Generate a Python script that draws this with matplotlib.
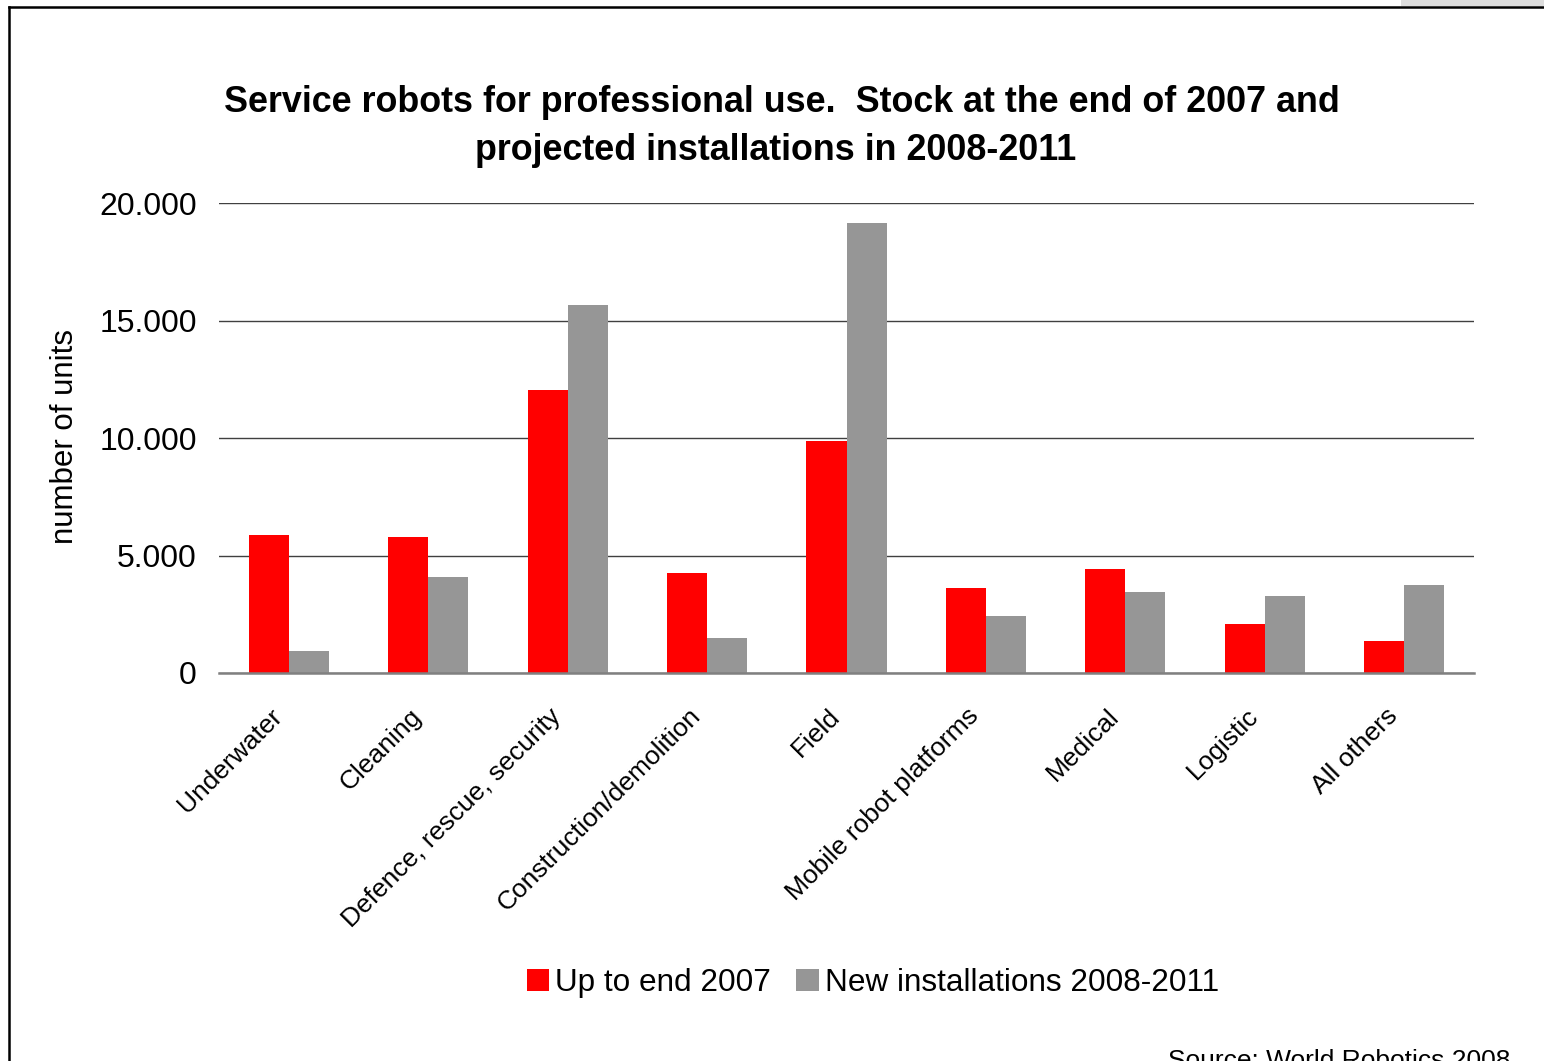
import matplotlib
matplotlib.use('Agg')
import matplotlib.pyplot as plt
import matplotlib.transforms as mtransforms
import numpy as np
from matplotlib.lines import Line2D
from matplotlib.patches import Rectangle
from matplotlib.ticker import FuncFormatter

plt.rcParams['font.family'] = ['Liberation Sans', 'DejaVu Sans']

categories = ['Underwater', 'Cleaning', 'Defence, rescue, security', 'Construction/demolition',
              'Field', 'Mobile robot platforms', 'Medical', 'Logistic', 'All others']
stock_2007 = [5870, 5790, 12040, 4260, 9870, 3620, 4430, 2090, 1360]
new_2008_2011 = [940, 4090, 15660, 1490, 19150, 2430, 3450, 3280, 3740]

W, H = 1544, 1061
fig = plt.figure(figsize=(W / 100, H / 100), dpi=100)

# frame around the chart area (partly cut off, as in the screenshot)
fig.add_artist(Rectangle((1401 / W, 1 - 6 / H), 143 / W, 6 / H, transform=fig.transFigure,
                         facecolor='#dddddd', edgecolor='none'))
fig.add_artist(Line2D([9 / W, 1.0], [1 - 7 / H, 1 - 7 / H], transform=fig.transFigure, color='black', lw=1.8))
fig.add_artist(Line2D([9 / W, 9 / W], [0, 1 - 7 / H], transform=fig.transFigure, color='black', lw=1.8))

ax = fig.add_axes([219 / W, 1 - 673 / H, (1474 - 219) / W, (673 - 203) / H])

x = np.arange(len(categories))
w = 0.287
ax.bar(x - w / 2, stock_2007, w, color='#ff0000', label='Up to end 2007', zorder=3)
ax.bar(x + w / 2, new_2008_2011, w, color='#969696', label='New installations 2008-2011', zorder=3)

ax.set_xlim(-0.5, len(categories) - 0.5)
ax.set_ylim(0, 20000)
ax.set_yticks([0, 5000, 10000, 15000, 20000])
ax.yaxis.set_major_formatter(FuncFormatter(lambda v, p: f'{int(v):,}'.replace(',', '.')))
ax.grid(axis='y', color='#404040', lw=1.0, zorder=0)
for s in ['top', 'right', 'left']:
    ax.spines[s].set_visible(False)
ax.spines['bottom'].set_color('#808080')
ax.spines['bottom'].set_linewidth(1.8)
ax.spines['bottom'].set_zorder(4)
ax.tick_params(axis='y', length=0, labelsize=23, pad=16)
ax.tick_params(axis='x', length=0, pad=10)
ax.set_xticks(x)
ax.set_xticklabels(categories, rotation=45, ha='right', rotation_mode='anchor', fontsize=19)
shift = mtransforms.ScaledTranslation(-0.19, -0.17, fig.dpi_scale_trans)
for lab in ax.get_xticklabels():
    lab.set_transform(lab.get_transform() + shift)

fig.text(65 / W, 1 - 437 / H, 'number of units', rotation=90, ha='center', va='center', fontsize=22.5)

fig.text(782 / W, 1 - 103 / H, 'Service robots for professional use.  Stock at the end of 2007 and',
         ha='center', va='center', fontsize=25.8, fontweight='bold')
fig.text(776 / W, 1 - 151 / H, 'projected installations in 2008-2011',
         ha='center', va='center', fontsize=25.8, fontweight='bold')

fig.legend(loc='center', bbox_to_anchor=(873 / W, 1 - 983 / H), ncol=2, frameon=False,
           fontsize=22.7, handlelength=0.7, handleheight=0.7, handletextpad=0.2, columnspacing=0.8)

fig.text(1168 / W, 1 - 1068 / H, 'Source: World Robotics 2008', ha='left', va='baseline', fontsize=19)

fig.savefig('out.png', dpi=100)
